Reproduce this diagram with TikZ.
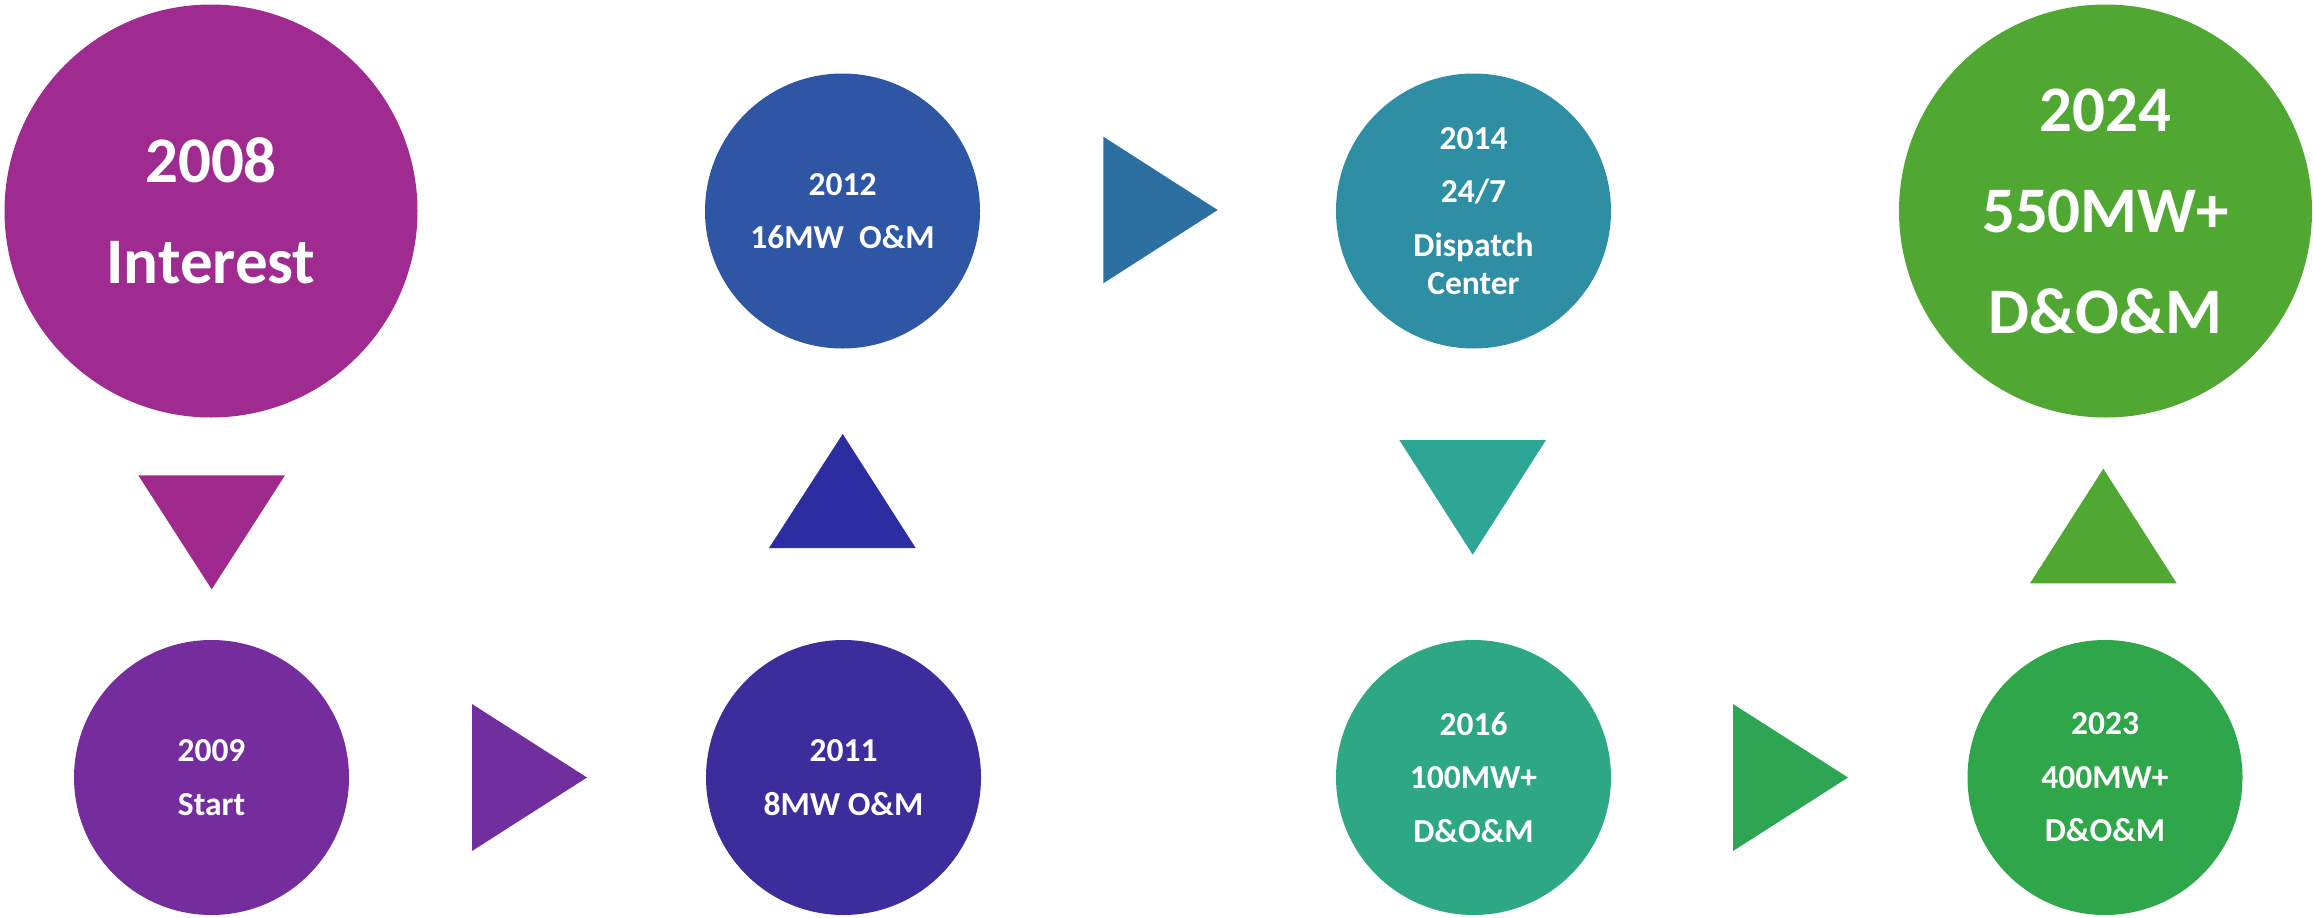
\documentclass[tikz,border=0pt]{standalone}
\usepackage{fontspec}
\setmainfont{Carlito}
\definecolor{c2008}{HTML}{A02B90}
\definecolor{c2009}{HTML}{752D9E}
\definecolor{c2011}{HTML}{3D2C9C}
\definecolor{c2012}{HTML}{2E56A4}
\definecolor{c2014}{HTML}{2E8EA4}
\definecolor{c2016}{HTML}{2EA784}
\definecolor{c2023}{HTML}{30A64A}
\definecolor{c2024}{HTML}{50A832}
\definecolor{tA}{HTML}{A0298E}
\definecolor{tB}{HTML}{712E9F}
\definecolor{tC}{HTML}{2C2DA0}
\definecolor{tD}{HTML}{2C70A2}
\definecolor{tE}{HTML}{2EA696}
\definecolor{tF}{HTML}{2EA552}
\definecolor{tG}{HTML}{50A832}
\begin{document}
\begin{tikzpicture}[x=1pt,y=-1pt,
  bub/.style={circle,inner sep=0pt,text=white,align=center},
  smallbub/.style={bub,minimum size=275pt,font=\bfseries\fontsize{33.5}{53.5}\selectfont},
  bigbub/.style={bub,minimum size=413pt,font=\bfseries\fontsize{65}{101}\selectfont}]
\useasboundingbox (0,0) rectangle (2313,918);
% circles
\node[bigbub,fill=c2008] (n2008) at (211,211) {2008\\Interest};
\node[smallbub,fill=c2009] (n2009) at (211.5,777.5) {2009\\Start};
\node[smallbub,fill=c2011] (n2011) at (843.5,777.5) {2011\\8MW O\&M};
\node[smallbub,fill=c2012] (n2012) at (842.5,211) {2012\\16MW\ \ O\&M};
\node[smallbub,fill=c2014] (n2014) at (1473.5,211) {2014\\24/7\\Dispatch\\[-15.5pt]Center};
\node[smallbub,fill=c2016] (n2016) at (1473.5,777.5) {2016\\100MW+\\D\&O\&M};
\node[smallbub,fill=c2023] (n2023) at (2105,777.5) {2023\\400MW+\\D\&O\&M};
\node[bigbub,fill=c2024] (n2024) at (2105.5,211) {2024\\550MW+\\D\&O\&M};
% triangles
\fill[tA] (138.3,475.3) -- (285,475.3) -- (211.7,589.3) -- cycle;
\fill[tB] (472,704) -- (472,851) -- (587,777.5) -- cycle;
\fill[tC] (769,548) -- (915.7,548) -- (842.7,434) -- cycle;
\fill[tD] (1103.3,136.7) -- (1103.3,283.3) -- (1217.7,210) -- cycle;
\fill[tE] (1399.3,440) -- (1546,440) -- (1472.7,554.7) -- cycle;
\fill[tF] (1733,704) -- (1733,851) -- (1848,777.5) -- cycle;
\fill[tG] (2030,583.3) -- (2176.7,583.3) -- (2103.3,468.7) -- cycle;
\end{tikzpicture}
\end{document}
